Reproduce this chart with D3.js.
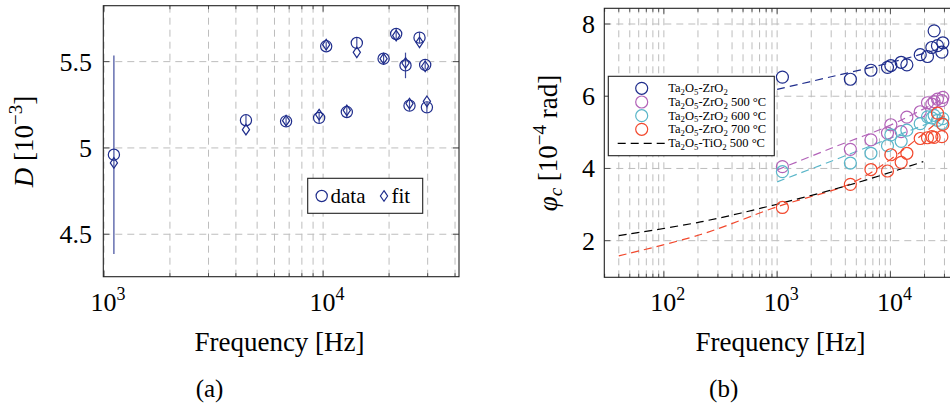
<!DOCTYPE html>
<html><head><meta charset="utf-8">
<script src="https://cdn.jsdelivr.net/npm/d3@7"></script>
<style>
body{margin:0;background:#fff}
svg{display:block}
svg text{font-family:'Liberation Serif','DejaVu Serif',serif;fill:#000}
</style>
</head><body>
<svg id="c" width="950" height="408" font-family="Liberation Serif, DejaVu Serif, serif"></svg>
<script>
// ---------- Data: panel (a) ----------
const leftFreq = [1110, 4446, 6777, 9593, 10330, 12830, 14250, 18880, 21550, 23770, 24790, 27540, 29230, 29760];
const leftData = [4.961, 5.160, 5.154, 5.174, 5.589, 5.208, 5.608, 5.517, 5.660, 5.478, 5.245, 5.639, 5.481, 5.235];
const leftErr  = [0.575, 0.030, 0.025, 0.030, 0.025, 0.030, 0.030, 0.025, 0.030, 0.074, 0.030, 0.030, 0.025, 0.030];
const leftFit  = [4.913, 5.106, 5.158, 5.193, 5.598, 5.218, 5.554, 5.517, 5.651, 5.492, 5.257, 5.612, 5.473, 5.270];
const leftYTicks = [4.5, 5, 5.5];
const leftXTickLabels = [["10","3"],["10","4"]];

// ---------- Data: panel (b) ----------
const rightFreq = [1113, 4430, 6730, 9420, 10090, 12440, 13970, 18330, 21240, 23210, 24320, 26020, 28460, 29030];
const zr      = [6.53, 6.47, 6.72, 6.80, 6.85, 6.94, 6.87, 7.15, 7.10, 7.35, 7.81, 7.40, 7.22, 7.48];
const zr500   = [4.05, 4.53, 4.79, 4.98, 5.21, 5.02, 5.42, 5.57, 5.82, 5.78, 5.85, 5.92, 5.88, 5.97];
const zr600   = [3.91, 4.15, 4.42, 4.63, 4.93, 4.75, 5.06, 5.24, 5.43, 5.40, 5.47, 5.33, 5.25, 5.38];
const zr700   = [2.92, 3.56, 3.97, 3.93, 4.38, 4.17, 4.42, 4.83, 4.85, 4.88, 4.86, 5.53, 4.88, 5.22];
// fit curves (frequency, value)
const zrFitF    = [1000, 3000, 10000, 30000];
const zrFit     = [6.19, 6.54, 6.93, 7.35];
const zr500FitF = [1000, 3000, 10000, 30000];
const zr500Fit  = [3.96, 4.56, 5.20, 5.95];
const zr600FitF = [1000, 3000, 10000, 30000];
const zr600Fit  = [3.63, 4.20, 4.84, 5.42];
const zr700FitF = [40, 211, 1000, 4430, 10000, 30000];
const zr700Fit  = [1.58, 2.17, 2.94, 3.58, 4.25, 5.45];
const tiFitF    = [40, 211, 1000, 5000, 19500];
const tiFit     = [2.14, 2.52, 3.01, 3.60, 4.19];
const rightYTicks = [2, 4, 6, 8];
const rightXTickLabels = [["10","2"],["10","3"],["10","4"]];
const seriesNames = ["Ta|2|O|5|-ZrO|2|", "Ta|2|O|5|-ZrO|2| 500 °C", "Ta|2|O|5|-ZrO|2| 600 °C", "Ta|2|O|5|-ZrO|2| 700 °C", "Ta|2|O|5|-TiO|2| 500 °C"];
const seriesColors = ["#1f2d8c", "#b262b8", "#5ab6c9", "#f2492e", "#000000"];

// ---------- Drawing ----------
const FONT = "'Liberation Serif','DejaVu Serif',serif";
const svg = d3.select("#c");
const GRID = "#bdbdbd";
const NAVY = "#1f2d8c";

function subText(sel, str, size) {
  const parts = str.split("|");
  parts.forEach((p, i) => {
    if (p === "") return;
    const isSub = i % 2 === 1;
    const t = sel.append("tspan").text(p);
    if (isSub) {
      t.attr("font-size", size * 0.7).attr("dy", size * 0.22);
    } else if (i > 0) {
      t.attr("dy", -size * 0.22);
    }
  });
}
function txt(g) { return g.append("text").style("font-family", FONT); }

function drawFrame(g, x, y, yTicks, xr, yr) {
  const xt = x.ticks();
  g.append("g").selectAll("line").data(xt.filter(v => x(v) > xr[0] + 0.5 && x(v) < xr[1] - 0.5)).join("line")
    .attr("x1", d => x(d)).attr("x2", d => x(d)).attr("y1", yr[0]).attr("y2", yr[1])
    .attr("stroke", GRID).attr("stroke-width", 1).attr("stroke-dasharray", "7,5");
  g.append("g").selectAll("line").data(yTicks).join("line")
    .attr("x1", xr[0]).attr("x2", xr[1]).attr("y1", d => y(d)).attr("y2", d => y(d))
    .attr("stroke", GRID).attr("stroke-width", 1).attr("stroke-dasharray", "7,5");
  const tk = g.append("g").attr("stroke", "#444").attr("stroke-width", 0.9);
  xt.forEach(v => {
    const px = x(v);
    if (px < xr[0] || px > xr[1]) return;
    const maj = Math.abs(Math.log10(v) - Math.round(Math.log10(v))) < 1e-6;
    const L = maj ? 6 : 3.5;
    tk.append("line").attr("x1", px).attr("x2", px).attr("y1", yr[0]).attr("y2", yr[0] - L);
    tk.append("line").attr("x1", px).attr("x2", px).attr("y1", yr[1]).attr("y2", yr[1] + L);
  });
  yTicks.forEach(v => {
    tk.append("line").attr("x1", xr[0]).attr("x2", xr[0] + 6).attr("y1", y(v)).attr("y2", y(v));
    tk.append("line").attr("x1", xr[1]).attr("x2", xr[1] - 6).attr("y1", y(v)).attr("y2", y(v));
  });
}

function xTickLabels(g, x, vals, labels) {
  vals.forEach((v, i) => {
    const t = txt(g).attr("x", x(v) + 4).attr("y", 310.5).attr("text-anchor", "middle").attr("font-size", 26);
    t.append("tspan").text(labels[i][0]);
    t.append("tspan").text(labels[i][1]).attr("font-size", 18).attr("dy", -11);
  });
}

// ===== Panel (a) =====
const xL = d3.scaleLog().domain([993, 41700]).range([103.3, 459]);
const yL = d3.scaleLinear().domain([4.254, 5.824]).range([276.7, 5.7]);
const gA = svg.append("g");
drawFrame(gA, xL, yL, leftYTicks, [103.3, 459], [276.7, 5.7]);

gA.append("g").selectAll("line").data(leftFreq).join("line")
  .attr("x1", (d) => xL(d)).attr("x2", d => xL(d))
  .attr("y1", (d, i) => yL(leftData[i] - leftErr[i])).attr("y2", (d, i) => yL(leftData[i] + leftErr[i]))
  .attr("stroke", NAVY).attr("stroke-width", 1.2).attr("stroke-opacity", 0.85);
gA.append("g").selectAll("circle").data(leftFreq).join("circle")
  .attr("cx", d => xL(d)).attr("cy", (d, i) => yL(leftData[i])).attr("r", 5.6)
  .attr("fill", "none").attr("stroke", NAVY).attr("stroke-width", 1.2);
const diamond = "M0,-5.3L3.6,0L0,5.3L-3.6,0Z";
gA.append("g").selectAll("path").data(leftFreq).join("path")
  .attr("d", diamond).attr("transform", (d, i) => `translate(${xL(d)},${yL(leftFit[i])})`)
  .attr("fill", "none").attr("stroke", NAVY).attr("stroke-width", 1.2);
gA.append("rect").attr("x", 103.3).attr("y", 5.7).attr("width", 459 - 103.3).attr("height", 276.7 - 5.7)
  .attr("fill", "none").attr("stroke", "#222").attr("stroke-width", 1.1);
leftYTicks.forEach(v => {
  txt(gA).attr("x", 92).attr("y", yL(v) + 9).attr("text-anchor", "end").attr("font-size", 26).text(String(v));
});
xTickLabels(gA, xL, [1e3, 1e4], leftXTickLabels);
gA.append("rect").attr("x", 307.7).attr("y", 178.3).attr("width", 115).attr("height", 35)
  .attr("fill", "#fff").attr("stroke", "#222").attr("stroke-width", 1.1);
gA.append("circle").attr("cx", 321.7).attr("cy", 196).attr("r", 5.6).attr("fill", "none").attr("stroke", NAVY).attr("stroke-width", 1.2);
txt(gA).attr("x", 330.5).attr("y", 202.5).attr("font-size", 21).text("data");
gA.append("path").attr("d", diamond).attr("transform", "translate(384,196)").attr("fill", "none").attr("stroke", NAVY).attr("stroke-width", 1.2);
txt(gA).attr("x", 391.5).attr("y", 202.5).attr("font-size", 21).text("fit");
txt(gA).attr("x", 279.5).attr("y", 350.5).attr("text-anchor", "middle").attr("font-size", 27).text("Frequency [Hz]");
{
  const t = txt(gA).attr("transform", "translate(33,141.5) rotate(-90)").attr("text-anchor", "middle").attr("font-size", 27);
  t.append("tspan").text("D").attr("font-style", "italic");
  t.append("tspan").text(" [10");
  t.append("tspan").text("\u22123").attr("font-size", 19).attr("dy", -11);
  t.append("tspan").text("]").attr("dy", 11);
}
txt(gA).attr("x", 209.5).attr("y", 397).attr("text-anchor", "middle").attr("font-size", 25).text("(a)");

// ===== Panel (b) =====
const xR = d3.scaleLog().domain([29.8, 39500]).range([604.3, 958]);
const yR = d3.scaleLinear().domain([0.986, 8.435]).range([277.3, 8.3]);
const gB = svg.append("g");
drawFrame(gB, xR, yR, rightYTicks, [604.3, 958], [277.3, 8.3]);

const line = d3.line().x(d => xR(d[0])).y(d => yR(d[1])).curve(d3.curveCatmullRom.alpha(0.5));
const fits = [[zrFitF, zrFit], [zr500FitF, zr500Fit], [zr600FitF, zr600Fit], [zr700FitF, zr700Fit], [tiFitF, tiFit]];
fits.forEach((f, k) => {
  gB.append("path").attr("d", line(f[0].map((v, i) => [v, f[1][i]])))
    .attr("fill", "none").attr("stroke", seriesColors[k]).attr("stroke-width", 1.2).attr("stroke-dasharray", "8,5");
});
const pts = [zr, zr500, zr600, zr700];
pts.forEach((s, k) => {
  gB.append("g").selectAll("circle").data(rightFreq).join("circle")
    .attr("cx", d => xR(d)).attr("cy", (d, i) => yR(s[i])).attr("r", 6)
    .attr("fill", "none").attr("stroke", seriesColors[k]).attr("stroke-width", 1.2);
});
gB.append("rect").attr("x", 604.3).attr("y", 8.3).attr("width", 958 - 604.3).attr("height", 277.3 - 8.3)
  .attr("fill", "none").attr("stroke", "#222").attr("stroke-width", 1.1);
rightYTicks.forEach(v => {
  txt(gB).attr("x", 595).attr("y", yR(v) + 9).attr("text-anchor", "end").attr("font-size", 26).text(String(v));
});
xTickLabels(gB, xR, [1e2, 1e3, 1e4], rightXTickLabels);

gB.append("rect").attr("x", 608.3).attr("y", 76.3).attr("width", 166).attr("height", 79.4)
  .attr("fill", "#fff").attr("stroke", "#222").attr("stroke-width", 1.1);
const legY = [88.3, 102, 115.7, 129.3, 143.3];
seriesNames.forEach((nm, k) => {
  if (k < 4) {
    gB.append("circle").attr("cx", 641.7).attr("cy", legY[k]).attr("r", 6)
      .attr("fill", "none").attr("stroke", seriesColors[k]).attr("stroke-width", 1.2);
  } else {
    gB.append("line").attr("x1", 617.7).attr("x2", 665.5).attr("y1", legY[k]).attr("y2", legY[k])
      .attr("stroke", "#000").attr("stroke-width", 1.2).attr("stroke-dasharray", "8,5");
  }
  const t = txt(gB).attr("x", 668.3).attr("y", legY[k] + 4).attr("font-size", 12.5);
  subText(t, nm, 12.5);
});
txt(gB).attr("x", 780.5).attr("y", 350.5).attr("text-anchor", "middle").attr("font-size", 27).text("Frequency [Hz]");
{
  const t = txt(gB).attr("transform", "translate(557,143) rotate(-90)").attr("text-anchor", "middle").attr("font-size", 27);
  t.append("tspan").text("\u03C6").attr("font-style", "italic");
  t.append("tspan").text("c").attr("font-style", "italic").attr("font-size", 19).attr("dy", 5);
  t.append("tspan").text(" [10").attr("dy", -5);
  t.append("tspan").text("\u22124").attr("font-size", 19).attr("dy", -11);
  t.append("tspan").text(" rad]").attr("dy", 11);
}
txt(gB).attr("x", 723.7).attr("y", 397).attr("text-anchor", "middle").attr("font-size", 25).text("(b)");
</script>
</body></html>
